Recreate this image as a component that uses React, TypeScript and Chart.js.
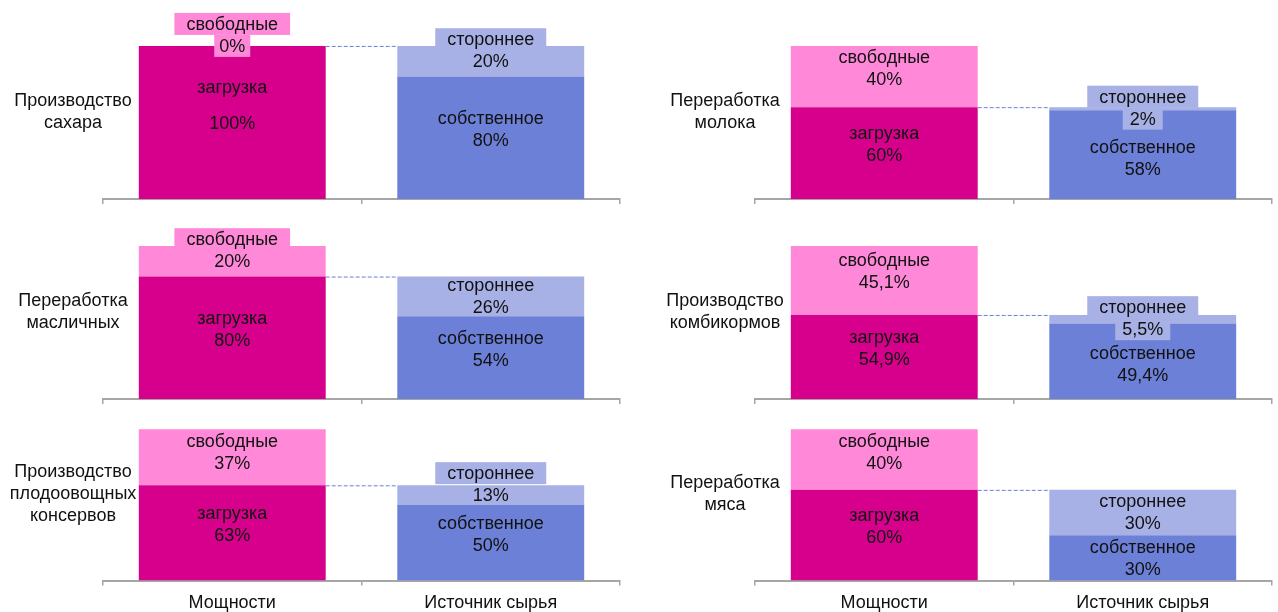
import React, { useEffect, useRef } from 'react';
import { Chart, registerables } from 'chart.js';

Chart.register(...registerables);

// ---- data ----
const categories = ['Мощности', 'Источник сырья'];
const seriesNames = ['загрузка', 'свободные', 'собственное', 'стороннее'];
const panelTitles = [
  ['Производство', 'сахара'],
  ['Переработка', 'молока'],
  ['Переработка', 'масличных'],
  ['Производство', 'комбикормов'],
  ['Производство', 'плодоовощных', 'консервов'],
  ['Переработка', 'мяса'],
];
const loadValues = [100, 60, 80, 54.9, 63, 60];
const freeValues = [0, 40, 20, 45.1, 37, 40];
const ownValues = [80, 58, 54, 49.4, 50, 30];
const externalValues = [20, 2, 26, 5.5, 13, 30];

// ---- styles ----
const FONT = '"Liberation Sans", Arial, sans-serif';
const FONT_SIZE = 18;
const LINE = 22;
const TEXT_COLOR = '#111111';
const COLORS = ['#D6008C', '#FF89D8', '#6B80D6', '#A7B1E6'];
const AXIS_COLOR = '#A6A6A6';

function fmt(v: number) {
  return String(v).replace('.', ',') + '%';
}

const labelPlugin = {
  id: 'panelLabels',
  afterDatasetsDraw(chart: any) {
    const ctx = chart.ctx as CanvasRenderingContext2D;
    const area = chart.chartArea;
    const opts = chart.options.plugins.panelLabels;
    ctx.save();
    ctx.font = `${FONT_SIZE}px ${FONT}`;
    ctx.textAlign = 'center';
    ctx.textBaseline = 'middle';

    // dashed connector from the load top to the raw-material bar
    const loadBar = chart.getDatasetMeta(0).data[0];
    const srcBar = chart.getDatasetMeta(2).data[1];
    if (loadBar && srcBar) {
      ctx.strokeStyle = COLORS[2];
      ctx.lineWidth = 1;
      ctx.setLineDash([4, 2]);
      ctx.beginPath();
      ctx.moveTo(loadBar.x + loadBar.width / 2, loadBar.y + 0.5);
      ctx.lineTo(srcBar.x - srcBar.width / 2, loadBar.y + 0.5);
      ctx.stroke();
      ctx.setLineDash([]);
    }

    const segHeight = (di: number, i: number) => {
      const el = chart.getDatasetMeta(di).data[i];
      const v = chart.data.datasets[di].data[i];
      if (!el || v == null) return null;
      return el.base - el.y;
    };

    // segment labels
    chart.data.datasets.forEach((ds: any, di: number) => {
      const meta = chart.getDatasetMeta(di);
      ds.data.forEach((v: number | null, i: number) => {
        if (v == null) return;
        const el = meta.data[i];
        const topY = el.y;
        const bottomY = el.base;
        const h = bottomY - topY;
        const cx = el.x;
        const mid = (topY + bottomY) / 2;
        const name = ds.label;
        const val = fmt(v);
        const color = ds.backgroundColor;
        const lines: { t: string; y: number; box: boolean; pad: number }[] = [];
        if (h >= 36) {
          const aboveH = di % 2 === 0 ? segHeight(di + 1, i) : null;
          let off = -Math.min(9, Math.max(0, (h - 45) * 0.5));
          let gap = LINE;
          if (aboveH != null && aboveH > 0 && aboveH < 12) off = 3;
          if (h > 140) {
            gap = 36;
            off = -17;
          }
          lines.push({ t: name, y: mid + off - gap / 2, box: false, pad: 0 });
          lines.push({ t: val, y: mid + off + gap / 2, box: false, pad: 0 });
        } else if (v === 0 || h >= 12) {
          lines.push({ t: name, y: mid - LINE, box: true, pad: 12 });
          lines.push({ t: val, y: mid, box: v === 0, pad: 5 });
        } else {
          lines.push({ t: name, y: mid - LINE / 2 - 1, box: true, pad: 12 });
          lines.push({ t: val, y: mid + LINE / 2 - 1, box: true, pad: 7 });
        }
        lines.forEach((ln) => {
          if (ln.box) {
            const w = ctx.measureText(ln.t).width + ln.pad * 2;
            ctx.fillStyle = color;
            ctx.fillRect(cx - w / 2, ln.y - LINE / 2, w, LINE);
          }
        });
        ctx.fillStyle = TEXT_COLOR;
        lines.forEach((ln) => ctx.fillText(ln.t, cx, ln.y + 1));
      });
    });

    // panel title (category name) to the left of the plot
    const title: string[] = opts.title;
    const ys = chart.scales.y;
    const cy = ys.getPixelForValue(57);
    const tx = area.left - 30;
    ctx.fillStyle = TEXT_COLOR;
    title.forEach((t, k) => {
      ctx.fillText(t, tx, cy + (k - (title.length - 1) / 2) * LINE);
    });
    ctx.restore();
  },
};

function Panel({ index }: { index: number }) {
  const ref = useRef<HTMLCanvasElement>(null);
  const col = index % 2;
  const row = Math.floor(index / 2);
  const isBottom = row === 2;
  const top = [0, 200, 384][row];
  const height = isBottom ? 236 : 206;
  const left = col ? 640 : 0;
  const width = col ? 638 : 640;

  useEffect(() => {
    if (!ref.current) return;
    const chart = new Chart(ref.current, {
      type: 'bar',
      data: {
        labels: categories,
        datasets: [
          { label: seriesNames[0], data: [loadValues[index], null], backgroundColor: COLORS[0] },
          { label: seriesNames[1], data: [freeValues[index], null], backgroundColor: COLORS[1] },
          { label: seriesNames[2], data: [null, ownValues[index]], backgroundColor: COLORS[2] },
          { label: seriesNames[3], data: [null, externalValues[index]], backgroundColor: COLORS[3] },
        ],
      },
      options: {
        responsive: false,
        animation: false,
        devicePixelRatio: 1,
        layout: {
          padding: { left: col ? 115 : 103, right: col ? 6 : 20, top: 0, bottom: isBottom ? 0 : 2 },
        },
        datasets: { bar: { barPercentage: 0.723, categoryPercentage: 1 } },
        plugins: {
          legend: { display: false },
          tooltip: { enabled: false },
          panelLabels: { title: panelTitles[index] },
        } as any,
        scales: {
          x: {
            stacked: true,
            grid: {
              offset: true,
              drawOnChartArea: false,
              drawTicks: true,
              tickLength: 5,
              color: AXIS_COLOR,
              lineWidth: 1.5,
            },
            border: { display: true, color: AXIS_COLOR, width: 2 },
            ticks: {
              display: isBottom,
              color: TEXT_COLOR,
              font: { family: FONT, size: FONT_SIZE },
              padding: 6.4,
            },
          },
          y: { stacked: true, display: false, min: 0, max: 130 },
        },
      },
      plugins: [labelPlugin],
    } as any);
    return () => chart.destroy();
  }, [index]);

  return (
    <canvas
      ref={ref}
      width={width}
      height={height}
      style={{ position: 'absolute', left, top, width, height, display: 'block' }}
    />
  );
}

export default function App() {
  return (
    <div style={{ position: 'absolute', left: 0, top: 0, width: 1278, height: 612, background: '#ffffff', overflow: 'hidden' }}>
      {panelTitles.map((_, i) => (
        <Panel key={i} index={i} />
      ))}
    </div>
  );
}
